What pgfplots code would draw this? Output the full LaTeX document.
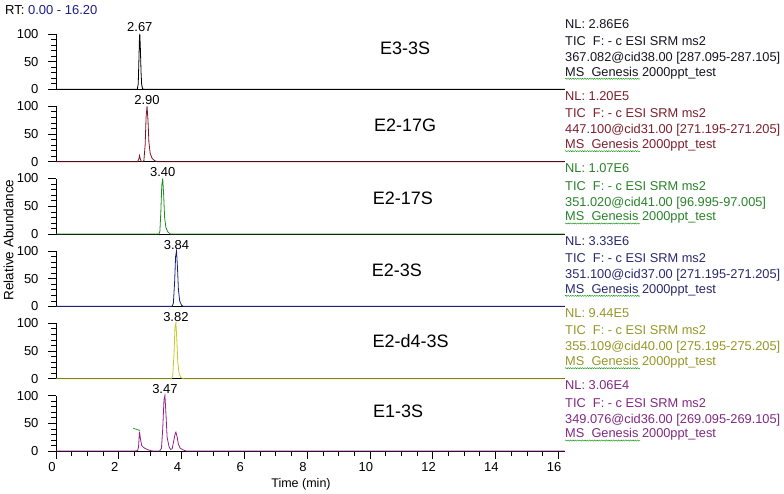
\documentclass[border=0pt]{standalone}
\usepackage{fontspec}
\setmainfont{Liberation Sans}
\usepackage{pgfplots}
\pgfplotsset{compat=1.18}
\usetikzlibrary{decorations.pathmorphing}
\definecolor{tr1}{RGB}{0,0,0}
\definecolor{tr2}{RGB}{128,20,40}
\definecolor{tr3}{RGB}{30,140,30}
\definecolor{tr4}{RGB}{30,30,120}
\definecolor{tr5}{RGB}{200,200,30}
\definecolor{tr6}{RGB}{150,30,140}
\definecolor{tx1}{RGB}{20,20,30}
\definecolor{tx2}{RGB}{125,30,45}
\definecolor{tx3}{RGB}{40,130,40}
\definecolor{tx4}{RGB}{40,40,110}
\definecolor{tx5}{RGB}{150,150,40}
\definecolor{tx6}{RGB}{130,40,130}
\definecolor{rtblue}{RGB}{30,30,140}
\pgfplotsset{panel/.style={scale only axis, width=508.5pt, height=55.5pt,
  xmin=0, xmax=16.2, ymin=0, ymax=100,
  axis x line*=bottom, axis y line*=left,
  axis line style={-,black,line width=0.8pt},
  ytick={0,50,100}, minor y tick num=4, tick align=outside,
  major tick length=8pt, minor tick length=5pt,
  xtick=\empty,
  tick style={black,line width=0.6pt},
  every tick label/.append style={font=\fontsize{13}{15}\selectfont},
  yticklabel style={xshift=-6pt},
  /pgf/number format/assume math mode=true,
  clip=false, anchor=south west}}
\tikzset{info/.style={anchor=base west, inner sep=0pt, font=\fontsize{12.8}{14}\selectfont},
  plab/.style={font=\fontsize{18}{20}\selectfont},
  pk/.style={anchor=south, inner sep=1.5pt, font=\fontsize{13}{15}\selectfont}}
\newcommand\infoblock[4]{%
 \pgfmathsetmacro\ya{-(28.2+72.35*#1)}%
 \pgfmathsetmacro\yb{\ya-17.3}%
 \pgfmathsetmacro\yc{\ya-33.1}%
 \pgfmathsetmacro\yd{\ya-47.8}%
 \pgfmathsetmacro\ye{\yd-2.8}%
 \node[info,text=#2] at (565pt,\ya pt) {NL: #3};
 \node[info,text=#2] at (565pt,\yb pt) {TIC\ \ F: - c ESI SRM ms2};
 \node[info,text=#2] at (565pt,\yc pt) {#4};
 \node[info,text=#2] at (565pt,\yd pt) {MS\ \ Genesis 2000ppt\_test};
 \draw[green!55!black, line width=0.4pt, decorate, decoration={snake,amplitude=0.6pt,segment length=2.4pt}] (565pt,\ye pt) -- (640pt,\ye pt);
}
\begin{document}
\begin{tikzpicture}
\useasboundingbox (0,0) rectangle (784pt,-493pt);
\node[anchor=west, inner sep=0pt, font=\fontsize{13}{15}\selectfont] at (5pt,-10pt) {RT: \textcolor{rtblue}{0.00 - 16.20}};
\node[rotate=90, font=\fontsize{13.5}{15}\selectfont] at (8.5pt,-240pt) {Relative Abundance};
\node[font=\fontsize{12.5}{14}\selectfont] at (301pt,-484pt) {Time (min)};

% Panel 1: E3-3S
\begin{axis}[panel, at={(56pt,-89.3pt)}]
\addplot[tr1, line width=0.8pt] coordinates {(0,0) (2.59,0) (2.62,10) (2.64,50) (2.66,95) (2.67,100) (2.69,70) (2.71,30) (2.73,8) (2.76,1) (2.79,0) (16.2,0)};
\node[pk] at (axis cs:2.67,100) {2.67};
\node[plab] at (axis cs:11.12,74) {E3-3S};
\end{axis}

% Panel 2: E2-17G
\begin{axis}[panel, at={(56pt,-161.65pt)}]
\addplot[tr2, line width=0.8pt] coordinates {(0,0) (2.60,0) (2.64,5) (2.66,11) (2.68,6) (2.71,1) (2.76,0) (2.80,2) (2.84,30) (2.87,80) (2.90,100) (2.93,75) (2.96,35) (3.00,15) (3.06,6) (3.14,2) (3.22,0) (16.2,0)};
\node[pk] at (axis cs:2.90,100) {2.90};
\node[plab] at (axis cs:11.12,66) {E2-17G};
\end{axis}

% Panel 3: E2-17S
\begin{axis}[panel, at={(56pt,-234.0pt)}]
\addplot[tr3, line width=0.8pt] coordinates {(0,0) (3.28,0) (3.31,5) (3.34,40) (3.37,88) (3.40,100) (3.43,70) (3.46,30) (3.50,12) (3.56,4) (3.64,0) (16.2,0)};
\node[pk] at (axis cs:3.40,100) {3.40};
\node[plab] at (axis cs:11.05,64) {E2-17S};
\end{axis}

% Panel 4: E2-3S
\begin{axis}[panel, at={(56pt,-306.35pt)}]
\addplot[tr4, line width=0.8pt] coordinates {(0,0) (3.70,0) (3.74,6) (3.78,45) (3.81,90) (3.84,100) (3.87,70) (3.90,30) (3.94,10) (4.00,2) (4.06,0) (16.2,0)};
\node[pk] at (axis cs:3.84,100) {3.84};
\node[plab] at (axis cs:10.86,65) {E2-3S};
\end{axis}

% Panel 5: E2-d4-3S
\begin{axis}[panel, at={(56pt,-378.7pt)}]
\addplot[tr5, line width=0.8pt] coordinates {(0,0) (3.68,0) (3.72,6) (3.76,45) (3.79,92) (3.82,100) (3.85,70) (3.88,30) (3.92,10) (3.98,2) (4.06,0) (16.2,0)};
\node[pk] at (axis cs:3.82,100) {3.82};
\node[plab] at (axis cs:11.3,67) {E2-d4-3S};
\end{axis}

% Panel 6: E1-3S
\begin{axis}[panel, at={(56pt,-451.05pt)},
  xtick={0,2,...,16}, minor x tick num=3,
  xticklabel style={xshift=-4pt}]
\addplot[tr3, line width=0.7pt] coordinates {(2.46,41) (2.68,37)};
\addplot[tr6, line width=0.8pt] coordinates {(0,0) (2.50,0) (2.60,1) (2.63,8) (2.66,35) (2.69,22) (2.73,10) (2.80,6) (2.90,3) (3.00,1) (3.10,0) (3.30,0) (3.36,5) (3.40,40) (3.44,92) (3.47,100) (3.50,70) (3.54,25) (3.60,8) (3.65,3) (3.70,4) (3.74,15) (3.79,30) (3.82,34) (3.86,25) (3.90,12) (3.96,5) (4.05,2) (4.15,0) (16.2,0)};
\node[pk] at (axis cs:3.47,100) {3.47};
\node[plab] at (axis cs:10.9,72.5) {E1-3S};
\end{axis}

\infoblock{0}{tx1}{2.86E6}{367.082@cid38.00 [287.095-287.105]}
\infoblock{1}{tx2}{1.20E5}{447.100@cid31.00 [271.195-271.205]}
\infoblock{2}{tx3}{1.07E6}{351.020@cid41.00 [96.995-97.005]}
\infoblock{3}{tx4}{3.33E6}{351.100@cid37.00 [271.195-271.205]}
\infoblock{4}{tx5}{9.44E5}{355.109@cid40.00 [275.195-275.205]}
\infoblock{5}{tx6}{3.06E4}{349.076@cid36.00 [269.095-269.105]}
\end{tikzpicture}
\end{document}
